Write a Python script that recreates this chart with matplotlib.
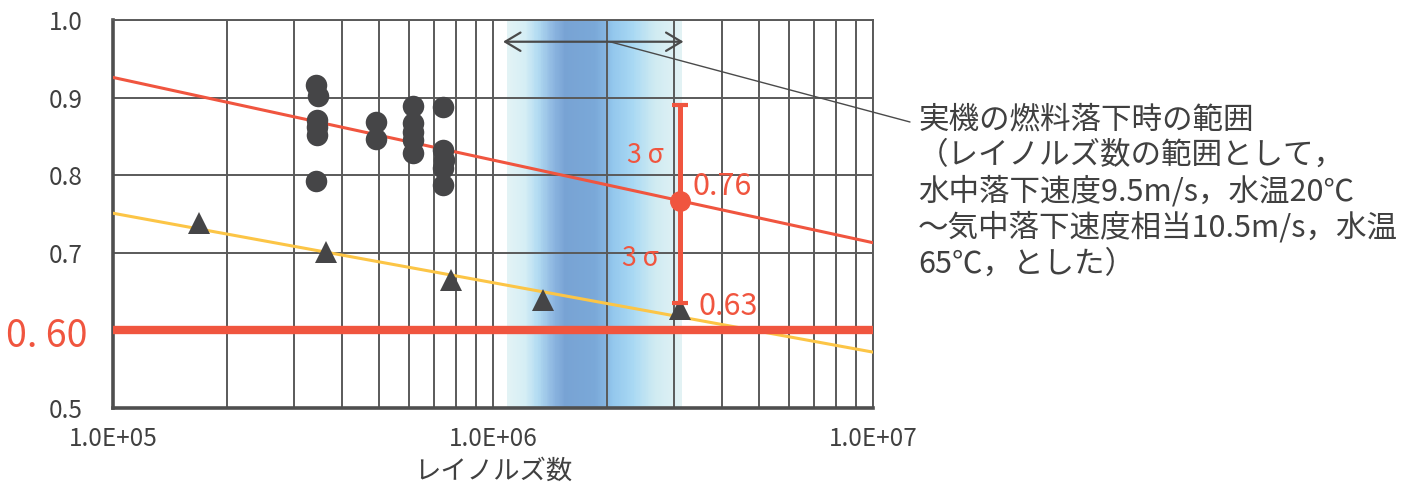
import numpy as np
import matplotlib
matplotlib.use('Agg')
from matplotlib import pyplot as plt
from matplotlib.colors import LinearSegmentedColormap
from matplotlib.ticker import NullFormatter, LogLocator

plt.rcParams['font.family'] = ['Noto Sans CJK JP', 'DejaVu Sans']

# --- data ---
circle_re = [3.42e5, 3.47e5, 3.44e5, 3.44e5, 3.44e5, 3.42e5,
             4.91e5, 4.91e5,
             6.15e5, 6.15e5, 6.15e5, 6.15e5, 6.15e5,
             7.37e5, 7.40e5, 7.42e5, 7.40e5, 7.37e5]
circle_cd = [0.916, 0.902, 0.871, 0.862, 0.852, 0.793,
             0.869, 0.847,
             0.889, 0.867, 0.856, 0.845, 0.829,
             0.888, 0.832, 0.820, 0.809, 0.787]

tri_re = [1.68e5, 3.63e5, 7.75e5, 1.35e6, 3.1e6]
tri_cd = [0.738, 0.701, 0.665, 0.639, 0.628]

fit_re = [1e5, 1e7]
red_fit_cd = [0.926, 0.713]
yellow_fit_cd = [0.751, 0.572]

design_re = 3.1e6
design_cd = 0.767
design_err_lo = 0.132
design_err_hi = 0.124
limit_cd = 0.60

band_lo, band_hi = 1.09e6, 3.14e6
arrow_y = 0.972

xticks = [1e5, 1e6, 1e7]
xticklabels = ['1.0E+05', '1.0E+06', '1.0E+07']
yticks = [0.5, 0.6, 0.7, 0.8, 0.9, 1.0]
yticklabels = ['0.5', '', '0.7', '0.8', '0.9', '1.0']

note = ('実機の燃料落下時の範囲\n'
        '（レイノルズ数の範囲として，\n'
        '水中落下速度9.5m/s，水温20℃\n'
        '～気中落下速度相当10.5m/s，水温\n'
        '65℃，とした）')

RED = '#f0553f'
YEL = '#fcc546'
DARK = '#454547'
GRID = '#5a5a5a'
TXT = '#404040'

fig = plt.figure(figsize=(14.12, 4.88), dpi=100)
ax = fig.add_axes([113 / 1412, 80 / 488, 760 / 1412, 388 / 488])
ax.set_xscale('log')
ax.set_xlim(1e5, 1e7)
ax.set_ylim(0.5, 1.0)

# gradient band (range of the real machine)
stops = [(0.0, '#e3f3f5'), (0.10, '#d5eef5'), (0.17, '#b3dcf2'),
         (0.27, '#8ab3df'), (0.33, '#78a3d4'), (0.50, '#7aa8d8'),
         (0.57, '#86b6e2'), (0.60, '#92c6ec'), (0.72, '#a8d8f3'),
         (0.85, '#d0ebf2'), (1.0, '#e2f2f4')]
cmap = LinearSegmentedColormap.from_list('band', stops)
edges = np.logspace(np.log10(band_lo), np.log10(band_hi), 200)
vals = np.linspace(0, 1, len(edges) - 1)[None, :]
ax.pcolormesh(edges, [0.5, 1.0], vals, cmap=cmap, shading='flat', zorder=0.5)

# grid
ax.xaxis.set_minor_locator(LogLocator(base=10, subs=np.arange(2, 10)))
ax.xaxis.set_minor_formatter(NullFormatter())
ax.grid(True, which='both', axis='x', color=GRID, lw=1.4)
ax.grid(True, which='major', axis='y', color=GRID, lw=1.4)
ax.set_xticks(xticks)
ax.set_xticklabels(xticklabels)
ax.set_yticks(yticks)
ax.set_yticklabels(yticklabels)
ax.tick_params(which='both', length=0)
ax.tick_params(axis='y', pad=22, labelsize=17.5, labelcolor=TXT)
ax.tick_params(axis='x', pad=13, labelsize=17.5, labelcolor=TXT)
for s in ['left', 'bottom']:
    ax.spines[s].set_color('#4f4f4f')
    ax.spines[s].set_linewidth(2.6)
for s in ['top', 'right']:
    ax.spines[s].set_color(GRID)
    ax.spines[s].set_linewidth(1.4)

# fits
ax.plot(fit_re, red_fit_cd, color=RED, lw=2.2, zorder=3)
ax.plot(fit_re, yellow_fit_cd, color=YEL, lw=2.2, zorder=3)

# limit line
ax.axhline(limit_cd, color=RED, lw=6, zorder=3)
ax.text(-0.033, limit_cd - 0.008, '0. 60', transform=ax.get_yaxis_transform(),
        ha='right', va='center', fontsize=27, color=RED)

# data points
ax.plot(circle_re, circle_cd, 'o', color=DARK, ms=15.5, mew=0, zorder=4)
ax.plot(tri_re, tri_cd, '^', color=DARK, ms=15.5, mew=0, zorder=4)

# design point with 3 sigma
ax.errorbar([design_re], [design_cd], yerr=[[design_err_lo], [design_err_hi]],
            fmt='o', color=RED, ms=14, elinewidth=3.6, capsize=6, capthick=3,
            zorder=5)
ax.text(design_re * 1.08, design_cd + 0.018, '0.76', fontsize=22, color=RED,
        ha='left', va='center', zorder=6)
ax.text(design_re * 1.12, design_cd - design_err_lo - 0.004, '0.63', fontsize=22,
        color=RED, ha='left', va='center', zorder=6)
ax.text(design_re * 0.81, design_cd + design_err_hi / 2 - 0.003, '3 σ', fontsize=19,
        color=RED, ha='center', va='center', zorder=6)
ax.text(design_re * 0.79, design_cd - design_err_lo / 2 - 0.008, '3 σ', fontsize=19,
        color=RED, ha='center', va='center', zorder=6)

# range arrow and leader line
ax.annotate('', xy=(band_lo * 0.975, arrow_y), xytext=(band_hi * 1.01, arrow_y),
            arrowprops=dict(arrowstyle='<->,head_length=0.55,head_width=0.33',
                            color='#4a4a4a', lw=1.6, mutation_scale=20,
                            shrinkA=0, shrinkB=0), zorder=6)
ax.annotate('', xy=(2.03e6, arrow_y), xytext=(910 / 1412, 1 - 122 / 488),
            textcoords='figure fraction', annotation_clip=False,
            arrowprops=dict(arrowstyle='-', color='#4a4a4a', lw=1,
                            shrinkA=0, shrinkB=0), zorder=6)
fig.text(918 / 1412, 1 - 104 / 488, note, ha='left', va='top', fontsize=22,
         color=TXT, linespacing=1.2)

ax.set_xlabel('レイノルズ数', fontsize=19, color=TXT, labelpad=4)

fig.savefig('out.png', dpi=100)
